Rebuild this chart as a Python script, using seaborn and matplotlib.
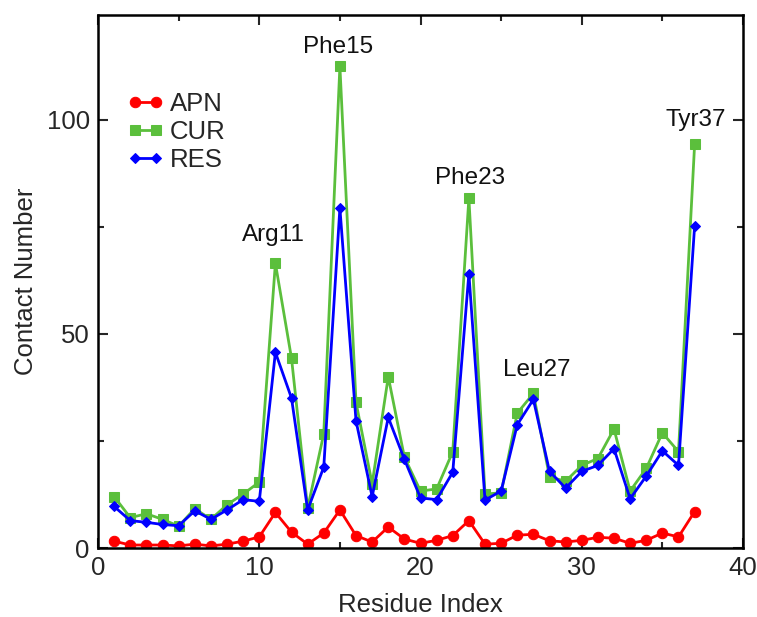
import numpy as np
import pandas as pd
import matplotlib
matplotlib.use("Agg")
import matplotlib.pyplot as plt
import seaborn as sns
from matplotlib.ticker import MultipleLocator

residues = list(range(1, 38))
apn = [1.6, 0.7, 0.7, 0.7, 0.5, 0.9, 0.5, 0.9, 1.6, 2.6, 8.3, 3.7, 0.9, 3.5, 8.9, 2.9, 1.4, 4.9, 2.1, 1.1,
       1.8, 2.9, 6.4, 0.9, 1.1, 3.0, 3.2, 1.7, 1.4, 1.8, 2.5, 2.3, 1.1, 1.8, 3.5, 2.6, 8.5]
cur = [12.0, 7.1, 8.0, 6.7, 5.1, 9.2, 6.7, 10.1, 12.6, 15.4, 66.5, 44.3, 9.3, 26.7, 112.5, 34.0, 15.0, 40.0, 21.2, 13.3,
       13.8, 22.5, 81.7, 12.6, 12.9, 31.5, 36.1, 16.6, 15.6, 19.3, 20.9, 27.8, 13.3, 18.6, 26.9, 22.5, 94.3]
res = [9.7, 6.4, 6.0, 5.5, 5.2, 8.7, 6.7, 8.9, 11.3, 10.9, 45.7, 35.0, 8.9, 18.9, 79.4, 29.7, 12.0, 30.5, 20.7, 11.7,
       11.3, 17.7, 64.1, 11.2, 13.3, 28.8, 34.7, 17.9, 14.0, 17.9, 19.3, 23.2, 11.5, 16.8, 22.7, 19.3, 75.2]

series_names = ["APN", "CUR", "RES"]
series_colors = ["#ff0000", "#5bbf3c", "#0000ff"]
series_markers = ["o", "s", "D"]
series_msize = [7.5, 6.5, 5.5]

ann_labels = ["Arg11", "Phe15", "Phe23", "Leu27", "Tyr37"]
ann_x = [10.85, 14.9, 23.1, 27.2, 37.1]
ann_y = [73, 117, 86.4, 41.6, 100]

sns.set_style("ticks")
plt.rcParams["font.family"] = ["Liberation Sans", "DejaVu Sans"]

fig = plt.figure(figsize=(7.57, 6.17), dpi=100)
ax = fig.add_axes([0.1295, 0.1118, 0.852, 0.864])

df = pd.DataFrame({"Residue": residues * 3,
                   "Value": apn + cur + res,
                   "Series": [n for n in series_names for _ in residues]})

for name, col, mk, ms in zip(series_names, series_colors, series_markers, series_msize):
    sub = df[df["Series"] == name]
    sns.lineplot(data=sub, x="Residue", y="Value", ax=ax, color=col, marker=mk,
                 markersize=ms, markeredgecolor=col, linewidth=2.0, label=name)

for t, x, y in zip(ann_labels, ann_x, ann_y):
    ax.text(x, y, t, ha="center", va="center", fontsize=17.5, color="#111111")

ax.set_xlim(0, 40)
ax.set_ylim(0, 124.5)
ax.xaxis.set_major_locator(MultipleLocator(10))
ax.xaxis.set_minor_locator(MultipleLocator(5))
ax.yaxis.set_major_locator(MultipleLocator(50))
ax.yaxis.set_minor_locator(MultipleLocator(25))
ax.tick_params(which="both", direction="in", top=True, right=True, width=1.5)
ax.tick_params(which="major", length=7, labelsize=18.5, pad=6)
ax.tick_params(which="minor", length=4)
for s in ax.spines.values():
    s.set_linewidth(1.8)
    s.set_color("black")

ax.set_xlabel("Residue Index", fontsize=18.5, labelpad=9)
ax.set_ylabel("Contact Number", fontsize=18.5, labelpad=6)

leg = ax.legend(loc="upper left", bbox_to_anchor=(0.03, 0.875), borderaxespad=0, frameon=False,
                fontsize=18.5, numpoints=2, handlelength=1.4, handletextpad=0.25, labelspacing=0.15)

fig.savefig("out.png", dpi=100)
